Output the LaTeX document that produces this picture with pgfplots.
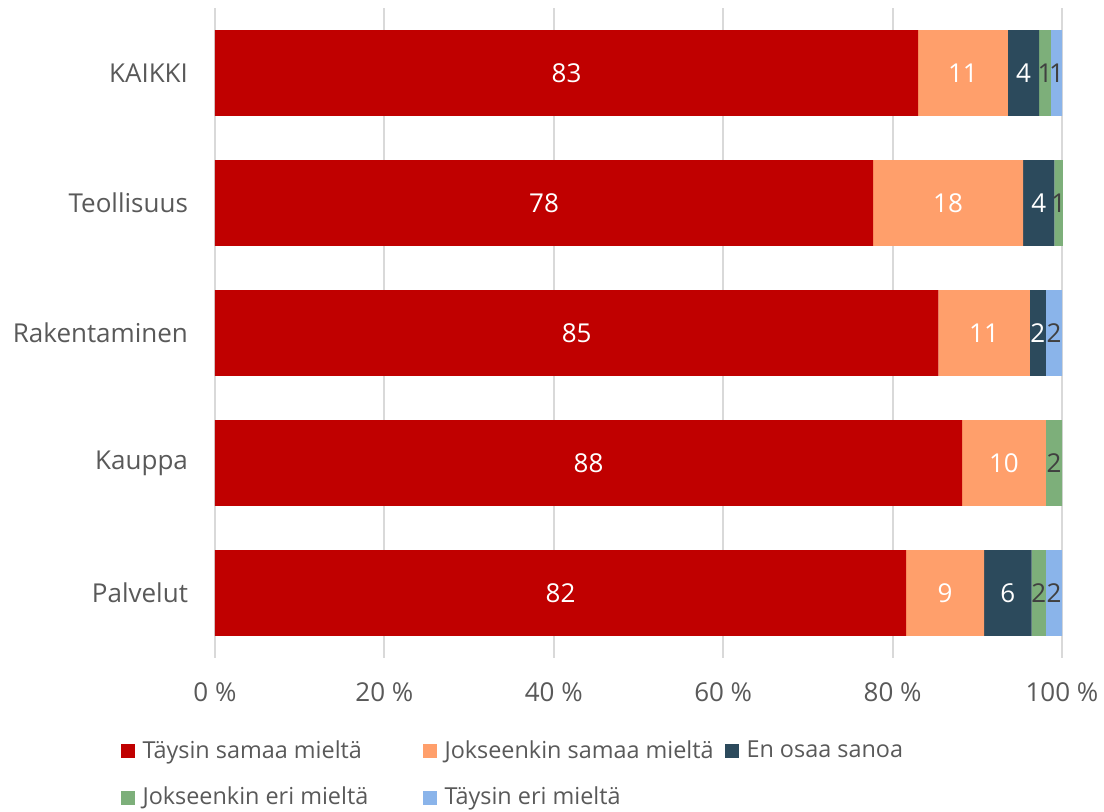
\documentclass[border=0pt]{standalone}
\usepackage{pgfplots}
\pgfplotsset{compat=1.18}
\usepackage{pgfplotstable}
\usepackage{fontspec}
\setmainfont{Open Sans}

\definecolor{cRed}{HTML}{C00000}
\definecolor{cOrange}{HTML}{FF9F6B}
\definecolor{cDark}{HTML}{2C4A5C}
\definecolor{cGreen}{HTML}{7DAF7A}
\definecolor{cBlue}{HTML}{8AB4EA}
\definecolor{txt}{HTML}{595959}
\definecolor{darktxt}{HTML}{404040}
\definecolor{gridc}{HTML}{D9D9D9}

% y: 4 = KAIKKI ... 0 = Palvelut; v = share (%), lab = printed label
\pgfplotstableread{
y v lab
0 81.6 82
1 88.2 88
2 85.4 85
3 77.7 78
4 83.0 83
}\tsamaa
\pgfplotstableread{
y v lab
0 9.2 9
1 9.9 10
2 10.8 11
3 17.7 18
4 10.6 11
}\jsamaa
\pgfplotstableread{
y v lab
0 5.6 6
1 0 {}
2 1.9 2
3 3.7 4
4 3.7 4
}\eos
\pgfplotstableread{
y v lab
0 1.7 2
1 1.9 2
2 0 {}
3 1.0 1
4 1.4 1
}\jeri
\pgfplotstableread{
y v lab
0 1.9 2
1 0 {}
2 1.9 2
3 0 {}
4 1.3 1
}\teri

\begin{document}
\begin{tikzpicture}
\useasboundingbox (-107.5pt,-77pt) rectangle (444.5pt,329pt);
\begin{axis}[
  at={(0pt,0pt)}, anchor=south west,
  width=423.5pt, height=325pt, scale only axis,
  xbar stacked, bar width=0.66,
  xmin=0, xmax=100, ymin=-0.5, ymax=4.5,
  clip=false,
  xtick={0,20,...,100},
  xticklabel={\pgfmathprintnumber{\tick}~\%},
  /pgf/number format/assume math mode=true,
  ytick={0,...,4},
  yticklabels={Palvelut,Kauppa,Rakentaminen,Teollisuus,KAIKKI},
  xmajorgrids, major grid style={gridc, line width=0.9pt},
  axis line style={draw=none},
  major tick length=0pt,
  tick label style={font=\fontsize{13}{15}\selectfont, text=txt},
  xticklabel style={yshift=-9pt},
  yticklabel style={xshift=-10pt},
  point meta=explicit symbolic,
  nodes near coords,
  nodes near coords style={anchor=center, font=\fontsize{13}{15}\selectfont},
  legend columns=3,
  legend cell align=left,
  legend style={at={(-0.112,-0.12)}, anchor=north west, draw=none, fill=none,
    inner sep=0pt, font=\fontsize{11.7}{14}\selectfont, text=txt, row sep=9pt,
    /tikz/every odd column/.append style={column sep=2pt}},
  legend image code/.code={\fill[#1, draw=none] (0pt,-3.5pt) rectangle (7pt,3.5pt);},
]
\addplot[fill=cRed, draw=none, text=white] table[x=v, y=y, meta=lab] {\tsamaa};
\addlegendentry{\makebox[138pt][l]{Täysin samaa mieltä}}
\addplot[fill=cOrange, draw=none, text=white] table[x=v, y=y, meta=lab] {\jsamaa};
\addlegendentry{\makebox[138pt][l]{Jokseenkin samaa mieltä}}
\addplot[fill=cDark, draw=none, text=white] table[x=v, y=y, meta=lab] {\eos};
\addlegendentry{En osaa sanoa}
\addplot[fill=cGreen, draw=none, text=darktxt] table[x=v, y=y, meta=lab] {\jeri};
\addlegendentry{\makebox[138pt][l]{Jokseenkin eri mieltä}}
\addplot[fill=cBlue, draw=none, text=darktxt] table[x=v, y=y, meta=lab] {\teri};
\addlegendentry{Täysin eri mieltä}
\end{axis}
\end{tikzpicture}
\end{document}
